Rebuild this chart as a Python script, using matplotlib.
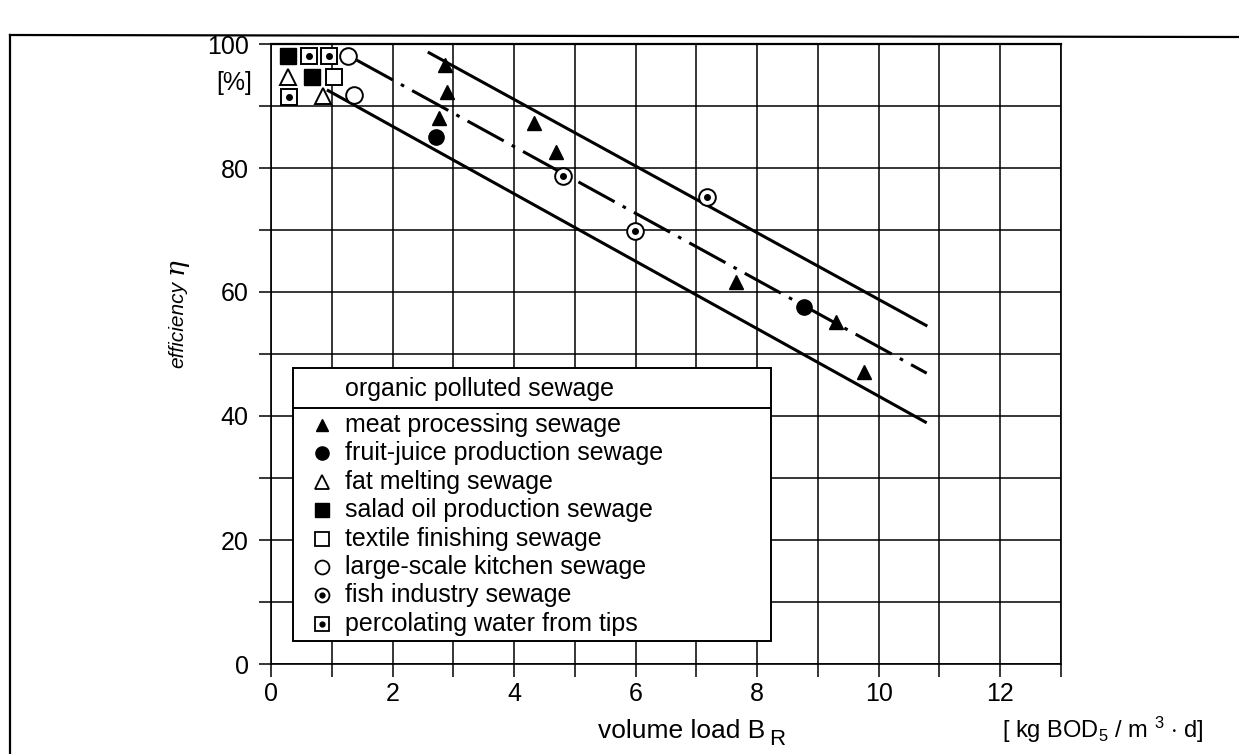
import matplotlib
matplotlib.use("Agg")
import matplotlib.pyplot as plt
from matplotlib.lines import Line2D
from matplotlib.patches import Rectangle

plt.rcParams['font.family'] = ['Liberation Sans', 'DejaVu Sans']
plt.rcParams['mathtext.fontset'] = 'custom'
plt.rcParams['mathtext.rm'] = 'Liberation Sans'
plt.rcParams['mathtext.it'] = 'Liberation Sans:italic'
plt.rcParams['mathtext.bf'] = 'Liberation Sans:bold'

# ---- measured values: volume load [kg BOD5/m3*d] vs. efficiency [%] ----
meat_x = [2.86, 2.89, 2.76, 4.32, 4.69, 7.65, 9.29, 9.75]
meat_y = [96.6, 92.2, 88.0, 87.3, 82.6, 61.6, 55.2, 47.1]
fruit_x = [2.72, 8.77]
fruit_y = [85.0, 57.6]
fat_x = [0.28, 0.85]
fat_y = [94.7, 91.6]
salad_x = [0.28, 0.67]
salad_y = [98.0, 94.7]
textile_x = [1.03]
textile_y = [94.6]
kitchen_x = [1.27, 1.36]
kitchen_y = [98.0, 91.8]
fish_x = [4.80, 5.99, 7.18]
fish_y = [78.7, 69.8, 75.3]
perc_x = [0.30, 0.62, 0.95]
perc_y = [91.5, 98.0, 98.0]

# band lines: upper limit, mean (dash-dot), lower limit
upper_x = [2.58, 10.80]
upper_y = [98.7, 54.5]
mean_x = [1.41, 10.79]
mean_y = [97.4, 46.9]
lower_x = [0.92, 10.79]
lower_y = [92.6, 38.9]

legend_title = "organic polluted sewage"
series_labels = [
    "meat processing sewage",
    "fruit-juice production sewage",
    "fat melting sewage",
    "salad oil production sewage",
    "textile finishing sewage",
    "large-scale kitchen sewage",
    "fish industry sewage",
    "percolating water from tips",
]

x_ticks = list(range(0, 14))
x_tick_labels = ["0", "", "2", "", "4", "", "6", "", "8", "", "10", "", "12", ""]
y_ticks = list(range(0, 101, 10))
y_tick_labels = ["0", "", "20", "", "40", "", "60", "", "80", "", "100"]

# ---- figure ----
W, H = 1239, 754
fig = plt.figure(figsize=(W / 100, H / 100), dpi=100)
ax_l, ax_r, ax_t, ax_b = 271, 1061, 44, 664
ax = fig.add_axes([ax_l / W, 1 - ax_b / H, (ax_r - ax_l) / W, (ax_b - ax_t) / H])
ax.set_xlim(0, 13)
ax.set_ylim(0, 100)

ax.set_xticks(x_ticks)
ax.set_xticklabels(x_tick_labels)
ax.set_yticks(y_ticks)
ax.set_yticklabels(y_tick_labels)
ax.tick_params(axis='both', direction='out', color='black', width=1.1,
               labelsize=18)
ax.tick_params(axis='x', length=9, pad=4)
ax.tick_params(axis='y', length=9, pad=7)
ax.grid(True, color='black', lw=1.1, zorder=0)
ax.set_axisbelow(True)
for s in ax.spines.values():
    s.set_linewidth(1.2)
    s.set_color('black')
ax.spines['top'].set_linewidth(1.6)

# band lines
ax.plot(upper_x, upper_y, color='black', lw=2.2, solid_capstyle='butt', zorder=2)
ax.plot(lower_x, lower_y, color='black', lw=2.2, solid_capstyle='butt', zorder=2)
ax.plot(mean_x, mean_y, color='black', lw=2.2, zorder=2,
        linestyle=(0, (13.5, 3.0, 1.2, 3.0)), dash_capstyle='butt')

# marker styles per series
styles = [
    dict(marker='^', ms=10, mfc='black', mec='black', mew=1.0),
    dict(marker='o', ms=11, mfc='black', mec='black', mew=1.0),
    dict(marker='^', ms=11, mfc='white', mec='black', mew=1.4),
    dict(marker='s', ms=11.5, mfc='black', mec='black', mew=1.0),
    dict(marker='s', ms=11.5, mfc='white', mec='black', mew=1.4),
    dict(marker='o', ms=12, mfc='white', mec='black', mew=1.4),
    dict(marker='o', ms=12, mfc='white', mec='black', mew=1.4),
    dict(marker='s', ms=11, mfc='white', mec='black', mew=1.4),
]
dotted = [False, False, False, False, False, False, True, True]
xs = [meat_x, fruit_x, fat_x, salad_x, textile_x, kitchen_x, fish_x, perc_x]
ys = [meat_y, fruit_y, fat_y, salad_y, textile_y, kitchen_y, fish_y, perc_y]

for x, y, st, dot in zip(xs, ys, styles, dotted):
    ax.plot(x, y, linestyle='none', zorder=4, clip_on=False, **st)
    if dot:
        ax.plot(x, y, linestyle='none', marker='o', ms=4, mfc='black',
                mec='black', zorder=4.5, clip_on=False)

# ---- legend box ----
def fx(px):
    return (px - ax_l) / (ax_r - ax_l)


def fy(py):
    return (ax_b - py) / (ax_b - ax_t)


box_l, box_r, box_t, box_b, box_div = 293, 771, 368, 641, 408
ax.add_patch(Rectangle((fx(box_l), fy(box_b)), fx(box_r) - fx(box_l),
                       fy(box_t) - fy(box_b), transform=ax.transAxes,
                       fc='white', ec='black', lw=1.4, zorder=6, clip_on=False))
ax.add_line(Line2D([fx(box_l), fx(box_r)], [fy(box_div), fy(box_div)],
                   transform=ax.transAxes, color='black', lw=1.4, zorder=7,
                   clip_on=False))
text_x = fx(345)
mark_x = fx(322)
ax.text(text_x, fy(389), legend_title, transform=ax.transAxes, fontsize=18,
        va='center', ha='left', zorder=8)
legend_ms = [9, 9.5, 9.5, 9.5, 9.5, 10, 10, 9.5]
for i, (lab, st, dot) in enumerate(zip(series_labels, styles, dotted)):
    row_y = fy(425 + 28.4 * i)
    st2 = dict(st)
    st2['ms'] = legend_ms[i]
    st2['mew'] = min(st['mew'], 1.3)
    ax.plot([mark_x], [row_y], transform=ax.transAxes, linestyle='none',
            zorder=8, clip_on=False, **st2)
    if dot:
        ax.plot([mark_x], [row_y], transform=ax.transAxes, linestyle='none',
                marker='o', ms=3.5, mfc='black', mec='black', zorder=9,
                clip_on=False)
    ax.text(text_x, row_y, lab, transform=ax.transAxes, fontsize=18,
            va='center', ha='left', zorder=8)

# ---- axis titles ----
fig.text(252 / W, 1 - 83 / H, "[%]", fontsize=18, ha='right', va='center')

# y title: italic word plus a larger eta, stacked along the rotated baseline
fig.text(183 / W, 1 - 368 / H, "efficiency", fontsize=15, style='italic',
         rotation=90, rotation_mode='anchor', ha='left', va='baseline')
fig.text(183 / W, 1 - 274 / H, "η", fontsize=19, family='DejaVu Serif',
         style='italic', rotation=90, rotation_mode='anchor', ha='left',
         va='baseline')

# x title with a large, dropped subscript
xt = fig.text(598 / W, 1 - 738 / H, "volume load B", fontsize=19,
              ha='left', va='baseline')
fig.canvas.draw()
bb = xt.get_window_extent(renderer=fig.canvas.get_renderer())
fig.text((bb.x1 + 4) / W, 1 - 745 / H, "R", fontsize=16, ha='left',
         va='baseline')
fig.text(1002 / W, 1 - 738 / H, r"[ kg BOD$_5$ / m $^3$ $\cdot$ d]", fontsize=17,
         ha='left', va='baseline')

# ---- outer frame ----
fig.add_artist(Line2D([10 / W, 1.0], [1 - 35 / H, 1 - 37 / H],
                      transform=fig.transFigure, color='black', lw=1.6))
fig.add_artist(Line2D([10 / W, 10 / W], [1 - 35 / H, 0.0],
                      transform=fig.transFigure, color='black', lw=1.6))

fig.savefig("out.png", dpi=100, facecolor='white')
